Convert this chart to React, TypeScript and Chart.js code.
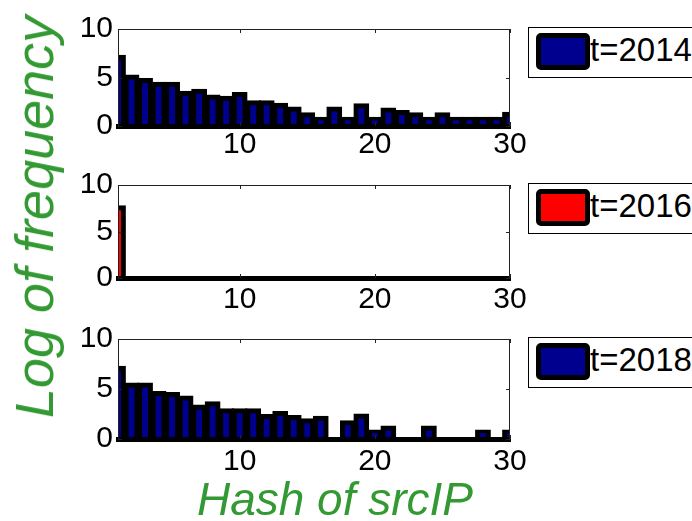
import React, { useEffect, useRef } from "react";
import { Chart, registerables } from "chart.js";

Chart.register(...registerables);

// ---- data ----
const hashBins = [1, 2, 3, 4, 5, 6, 7, 8, 9, 10, 11, 12, 13, 14, 15, 16, 17, 18, 19, 20, 21, 22, 23, 24, 25, 26, 27, 28, 29, 30];
const freq2014 = [7.08, 5.05, 4.68, 4.3, 4.3, 3.38, 3.58, 2.98, 2.85, 3.25, 2.4, 2.4, 2.15, 1.75, 1.15, 0.69, 1.75, 0.69, 2.1, 0.69, 1.65, 1.4, 1.15, 0.69, 1.15, 0.69, 0.69, 0.69, 0.69, 1.2];
const freq2016 = [7.55, 0, 0, 0, 0, 0, 0, 0, 0, 0, 0, 0, 0, 0, 0, 0, 0, 0, 0, 0, 0, 0, 0, 0, 0, 0, 0, 0, 0, 0];
const freq2018 = [7.08, 5.4, 5.4, 4.56, 4.44, 4.11, 3.21, 3.53, 2.82, 2.82, 2.82, 2.24, 2.56, 2.15, 1.83, 2.08, 0, 1.63, 2.31, 0.69, 1.1, 0, 0, 1.1, 0, 0, 0, 0.69, 0, 0.69];
const xTickValues = [10, 20, 30];
const yTickValues = [0, 5, 10];
const seriesLabels = ["t=2014", "t=2016", "t=2018"];
const xTitle = "Hash of srcIP";
const yTitle = "Log of frequency";

const FONT = "'Liberation Sans', Arial, Helvetica, sans-serif";
const GREEN = "#339933";
const NAVY = "#00008F";
const RED = "#FF0000";

const boxPlugin = {
  id: "boxTicks",
  afterDraw(chart: any) {
    const { ctx, chartArea } = chart;
    const { left, right, top, bottom } = chartArea;
    ctx.save();
    ctx.strokeStyle = "#222";
    ctx.lineWidth = 1;
    ctx.beginPath();
    ctx.moveTo(left + 0.5, bottom);
    ctx.lineTo(left + 0.5, top + 0.5);
    ctx.lineTo(right - 0.5, top + 0.5);
    ctx.lineTo(right - 0.5, bottom);
    const xs = chart.scales.x;
    const ys = chart.scales.y;
    const tl = 4;
    xTickValues.forEach((v) => {
      const px = Math.round(xs.getPixelForValue(v)) + 0.5;
      ctx.moveTo(px, top);
      ctx.lineTo(px, top + tl);
      ctx.moveTo(px, bottom);
      ctx.lineTo(px, bottom - tl);
    });
    yTickValues.forEach((v) => {
      const py = Math.round(ys.getPixelForValue(v)) + 0.5;
      ctx.moveTo(left, py);
      ctx.lineTo(left + tl, py);
      ctx.moveTo(right, py);
      ctx.lineTo(right - tl, py);
    });
    ctx.stroke();
    ctx.restore();
  },
};

type PanelProps = {
  values: number[];
  color: string;
  label: string;
  top: number;
  height: number;
  labelPad: number;
};

function Panel({ values, color, label, top, height, labelPad }: PanelProps) {
  const ref = useRef<HTMLCanvasElement | null>(null);
  const padTop = 20;
  const xAxisH = 45;
  const canvasH = padTop + height + xAxisH;
  useEffect(() => {
    if (!ref.current) return;
    const chart = new Chart(ref.current, {
      type: "bar",
      data: {
        datasets: [
          {
            label,
            data: hashBins.map((b, i) => ({ x: b, y: values[i] })),
            backgroundColor: color,
            borderColor: "#000",
            borderWidth: 5,
            borderSkipped: "start",
            inflateAmount: 2.5,
            barPercentage: 1,
            categoryPercentage: 0.8,
            clip: 0,
          } as any,
        ],
      },
      options: {
        responsive: false,
        animation: false,
        events: [],
        layout: { padding: { top: padTop, right: 50, left: 0, bottom: 0 } },
        plugins: { legend: { display: false }, tooltip: { enabled: false } },
        scales: {
          x: {
            type: "linear",
            min: 1,
            max: 30,
            offset: false,
            grid: { display: false, drawTicks: false },
            border: { display: true, width: 5, color: "#000", z: 1 } as any,
            ticks: {
              font: { size: 30, family: FONT },
              color: "#000",
              padding: labelPad,
              maxRotation: 0,
            },
            afterBuildTicks: (axis: any) => {
              axis.ticks = xTickValues.map((v) => ({ value: v }));
            },
            afterFit: (axis: any) => {
              axis.height = xAxisH;
            },
          },
          y: {
            min: 0,
            max: 10,
            grid: { display: false, drawTicks: false },
            border: { display: false },
            ticks: {
              stepSize: 5,
              font: { size: 30, family: FONT },
              color: "#000",
              padding: 5,
            },
            afterBuildTicks: (axis: any) => {
              axis.ticks = yTickValues.map((v) => ({ value: v }));
            },
            afterFit: (axis: any) => {
              axis.width = 118;
            },
          },
        },
      } as any,
      plugins: [boxPlugin],
    });
    return () => chart.destroy();
  }, []);

  const legTop = top + 1;
  return (
    <>
      <canvas
        ref={ref}
        width={560}
        height={canvasH}
        style={{ position: "absolute", left: 0, top: top - padTop, width: 560, height: canvasH }}
      />
      <div
        style={{
          position: "absolute",
          left: 528,
          top: legTop,
          width: 200,
          height: 51,
          boxSizing: "border-box",
          border: "1px solid #000",
          background: "#fff",
        }}
      >
        <div
          style={{
            position: "absolute",
            left: 7,
            top: 5,
            width: 54,
            height: 37,
            boxSizing: "border-box",
            border: "5px solid #000",
            borderRadius: 5,
            background: color,
          }}
        />
        <div
          style={{
            position: "absolute",
            left: 61,
            top: 5,
            font: `33px ${FONT}`,
            lineHeight: "33px",
            color: "#000",
            whiteSpace: "nowrap",
          }}
        >
          {label}
        </div>
      </div>
    </>
  );
}

export default function App() {
  return (
    <div
      style={{
        position: "fixed",
        left: 0,
        top: 0,
        width: 692,
        height: 521,
        background: "#fff",
        overflow: "hidden",
      }}
    >
      <Panel values={freq2014} color={NAVY} label={seriesLabels[0]} top={26} height={100} labelPad={1} />
      <Panel values={freq2016} color={RED} label={seriesLabels[1]} top={182} height={96} labelPad={4} />
      <Panel values={freq2018} color={NAVY} label={seriesLabels[2]} top={336} height={103} labelPad={5} />
      <div
        style={{
          position: "absolute",
          left: 34,
          top: 217,
          transform: "translate(-50%, -50%) rotate(-90deg)",
          font: `italic 54px ${FONT}`,
          lineHeight: "54px",
          color: GREEN,
          whiteSpace: "nowrap",
        }}
      >
        {yTitle}
      </div>
      <div
        style={{
          position: "absolute",
          left: 335,
          top: 499,
          transform: "translate(-50%, -50%)",
          font: `italic 46px ${FONT}`,
          lineHeight: "46px",
          color: GREEN,
          whiteSpace: "nowrap",
        }}
      >
        {xTitle}
      </div>
    </div>
  );
}
